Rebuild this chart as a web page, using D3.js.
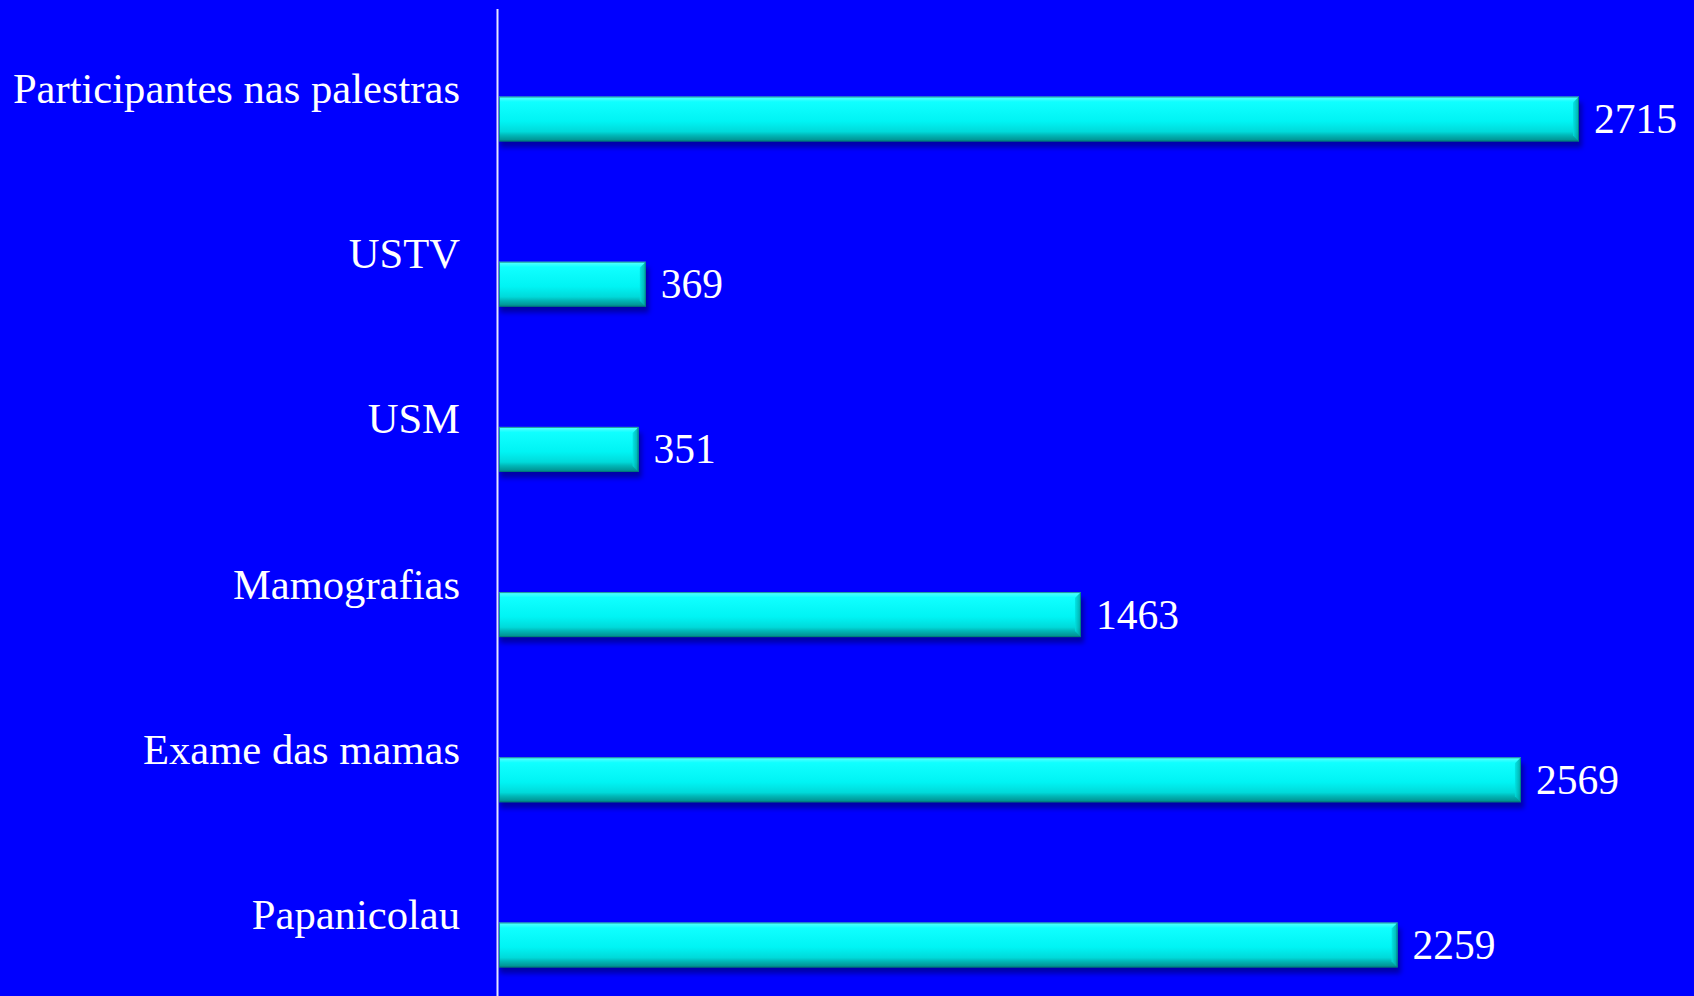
<!DOCTYPE html>
<html>
<head>
<meta charset="utf-8">
<script src="https://cdn.jsdelivr.net/npm/d3@7"></script>
<style>
  html, body { margin: 0; padding: 0; background: #0000FF; overflow: hidden; }
  svg { display: block; }
</style>
</head>
<body>
<svg id="chart" width="1694" height="996"></svg>
<script>
const categories = ["Participantes nas palestras", "USTV", "USM", "Mamografias", "Exame das mamas", "Papanicolau"];
const values = [2715, 369, 351, 1463, 2569, 2259];

const W = 1694, H = 996;
const svg = d3.select("#chart");

svg.append("rect").attr("width", W).attr("height", H).attr("fill", "#0000FF");

const defs = svg.append("defs");
const gV = defs.append("linearGradient").attr("id", "gV").attr("x1", 0).attr("y1", 0).attr("x2", 0).attr("y2", 1);
[[0, "#5fffff"], [0.12, "#10ffff"], [0.55, "#00f4f4"], [0.78, "#00dada"], [0.86, "#00b8b8"], [1, "#008a8a"]]
  .forEach(([o, c]) => gV.append("stop").attr("offset", o).attr("stop-color", c));
const gR = defs.append("linearGradient").attr("id", "gR").attr("x1", 0).attr("y1", 0).attr("x2", 1).attr("y2", 0);
[[0, "#00e0e0"], [1, "#009898"]].forEach(([o, c]) => gR.append("stop").attr("offset", o).attr("stop-color", c));
const blur = defs.append("filter").attr("id", "sh").attr("x", "-5%").attr("y", "-50%").attr("width", "110%").attr("height", "200%");
blur.append("feGaussianBlur").attr("stdDeviation", 2.5);

const x = d3.scaleLinear().domain([0, 2715]).range([499, 1579]);
const y = d3.scalePoint().domain(categories).range([119, 945]);
const barH = 45;
const bev = 6;

const data = categories.map((c, i) => ({ c, v: values[i] }));

// shadows
svg.append("g").selectAll("rect").data(data).join("rect")
  .attr("x", x(0) + 1)
  .attr("y", d => y(d.c) - barH / 2 + 6)
  .attr("width", d => x(d.v) - x(0) + 2)
  .attr("height", barH)
  .attr("fill", "#0000a8")
  .attr("filter", "url(#sh)");

const bars = svg.append("g").selectAll("g").data(data).join("g");
bars.append("rect")
  .attr("x", x(0))
  .attr("y", d => y(d.c) - barH / 2)
  .attr("width", d => x(d.v) - x(0))
  .attr("height", barH)
  .attr("fill", "url(#gV)");
// right bevel
bars.append("path")
  .attr("d", d => {
    const x1 = x(d.v), y0 = y(d.c) - barH / 2, y1 = y(d.c) + barH / 2;
    return `M${x1},${y0} L${x1 - bev},${y0 + bev} L${x1 - bev},${y1 - bev} L${x1},${y1} Z`;
  })
  .attr("fill", "url(#gR)")
  .attr("opacity", 0.8);
// outline
bars.append("rect")
  .attr("x", x(0) + 0.5)
  .attr("y", d => y(d.c) - barH / 2 + 0.5)
  .attr("width", d => x(d.v) - x(0) - 1)
  .attr("height", barH - 1)
  .attr("fill", "none")
  .attr("stroke", "#007070")
  .attr("stroke-opacity", 0.7)
  .attr("stroke-width", 1);

// axis line
svg.append("line")
  .attr("x1", 497.5).attr("x2", 497.5)
  .attr("y1", 9).attr("y2", H)
  .attr("stroke", "#e6e6ff").attr("stroke-width", 2);

// category labels
svg.append("g").selectAll("text").data(data).join("text")
  .attr("x", 460)
  .attr("y", d => y(d.c) - 16)
  .attr("text-anchor", "end")
  .attr("font-family", "'Liberation Serif', 'Times New Roman', serif")
  .attr("font-size", 42.6)
  .attr("fill", "#ffffff")
  .text(d => d.c);

// value labels
svg.append("g").selectAll("text").data(data).join("text")
  .attr("x", d => x(d.v) + 15)
  .attr("y", d => y(d.c) + 14)
  .attr("font-family", "'Liberation Serif', 'Times New Roman', serif")
  .attr("font-size", 41.5)
  .attr("fill", "#ffffff")
  .text(d => d.v);
</script>
</body>
</html>
